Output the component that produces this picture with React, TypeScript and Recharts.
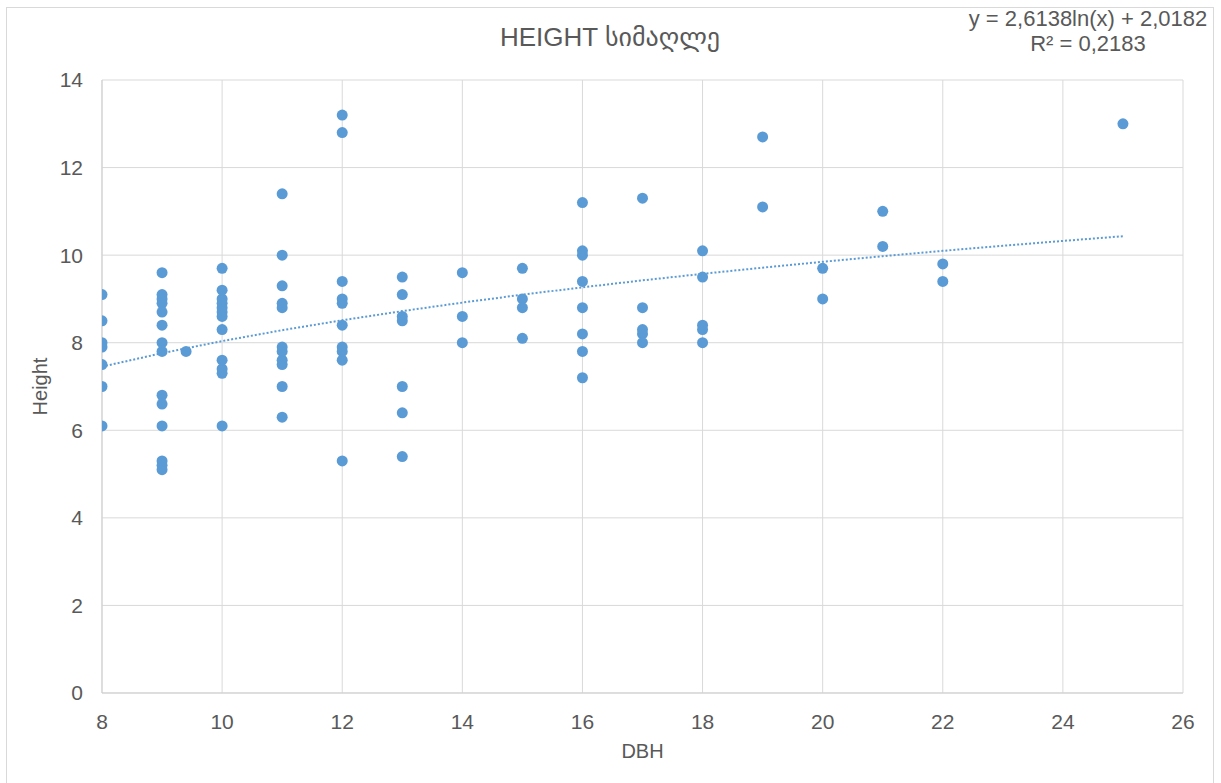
import React from 'react';
import { ScatterChart, Scatter, XAxis, YAxis, CartesianGrid, Label } from 'recharts';

const dbhGroups = [8, 9, 9.4, 10, 11, 12, 13, 14, 15, 16, 17, 18, 19, 20, 21, 22, 25];
const heightGroups = [
  [9.1, 8.5, 8.0, 7.9, 7.5, 7.0, 6.1],
  [9.6, 9.1, 9.0, 8.9, 8.7, 8.4, 8.0, 7.8, 6.8, 6.6, 6.1, 5.3, 5.2, 5.1],
  [7.8],
  [9.7, 9.2, 9.0, 8.9, 8.8, 8.7, 8.6, 8.3, 7.6, 7.4, 7.3, 6.1],
  [11.4, 10.0, 9.3, 8.9, 8.8, 7.9, 7.8, 7.6, 7.5, 7.0, 6.3],
  [13.2, 12.8, 9.4, 9.0, 8.9, 8.4, 7.9, 7.8, 7.6, 5.3],
  [9.5, 9.1, 8.6, 8.5, 7.0, 6.4, 5.4],
  [9.6, 8.6, 8.0],
  [9.7, 9.0, 8.8, 8.1],
  [11.2, 10.1, 10.0, 9.4, 8.8, 8.2, 7.8, 7.2],
  [11.3, 8.8, 8.3, 8.2, 8.0],
  [10.1, 9.5, 8.4, 8.3, 8.0],
  [12.7, 11.1],
  [9.7, 9.0],
  [11.0, 10.2],
  [9.8, 9.4],
  [13.0],
];

// Trendline y = 2,6138ln(x) + 2,0182 as shown on the chart
const trendX = [8, 9, 10, 11, 12, 13, 14, 15, 16, 17, 18, 19, 20, 21, 22, 23, 24, 25];
const trendY = [7.453, 7.761, 8.037, 8.286, 8.513, 8.722, 8.916, 9.097, 9.265, 9.424, 9.573, 9.714, 9.848, 9.976, 10.098, 10.214, 10.325, 10.432];

const xTicks = [8, 10, 12, 14, 16, 18, 20, 22, 24, 26];
const yTicks = [0, 2, 4, 6, 8, 10, 12, 14];

const titleText = 'HEIGHT სიმაღლე';
const equationText = 'y = 2,6138ln(x) + 2,0182';
const r2Text = 'R² = 0,2183';
const xLabel = 'DBH';
const yLabel = 'Height';

const points: { x: number; y: number }[] = [];
dbhGroups.forEach((d, i) => {
  heightGroups[i].forEach((h) => points.push({ x: d, y: h }));
});
const trend = trendX.map((x, i) => ({ x, y: trendY[i] }));

const FONT = '"Liberation Sans", Arial, "DejaVu Sans", sans-serif';
const TEXT = '#595959';
const BLUE = '#5b9bd5';

const Dot = (props: any) => <circle cx={props.cx} cy={props.cy} r={5.5} fill={BLUE} />;
const NoDot = () => <g />;

export default function App() {
  return (
    <div
      style={{
        position: 'absolute',
        left: 6,
        top: 7,
        width: 1208,
        height: 776,
        boxSizing: 'border-box',
        borderTop: '1px solid #d9d9d9',
        borderLeft: '1px solid #d9d9d9',
        borderRight: '1px solid #d9d9d9',
        background: '#fff',
        fontFamily: FONT,
      }}
    >
      <div
        style={{
          position: 'absolute',
          left: 0,
          width: 1206,
          top: 14,
          textAlign: 'center',
          fontSize: 26,
          color: TEXT,
          lineHeight: '30px',
        }}
      >
        {titleText}
      </div>
      <div
        style={{
          position: 'absolute',
          left: 881,
          width: 400,
          top: 0,
          textAlign: 'center',
          fontSize: 22,
          color: TEXT,
          lineHeight: '22px',
          whiteSpace: 'nowrap',
        }}
      >
        {equationText}
      </div>
      <div
        style={{
          position: 'absolute',
          left: 881,
          width: 400,
          top: 25,
          textAlign: 'center',
          fontSize: 22,
          color: TEXT,
          lineHeight: '22px',
          whiteSpace: 'nowrap',
        }}
      >
        {r2Text}
      </div>
      <div style={{ position: 'absolute', left: 0, top: 0 }}>
        <ScatterChart width={1206} height={775} margin={{ top: 72, right: 30, left: 0, bottom: 0 }}>
          <CartesianGrid stroke="#d9d9d9" strokeWidth={1} />
          <XAxis
            type="number"
            dataKey="x"
            domain={[8, 26]}
            ticks={xTicks}
            allowDataOverflow
            height={90}
            tickSize={0}
            tickMargin={21}
            axisLine={{ stroke: '#cfcfcf' }}
            tick={{ fill: TEXT, fontSize: 21, fontFamily: FONT }}
          >
            <Label value={xLabel} position="insideBottom" offset={25} fill={TEXT} fontSize={20} fontFamily={FONT} />
          </XAxis>
          <YAxis
            type="number"
            dataKey="y"
            domain={[0, 14]}
            ticks={yTicks}
            allowDataOverflow
            width={95}
            tickSize={0}
            tickMargin={19}
            axisLine={{ stroke: '#cfcfcf' }}
            tick={{ fill: TEXT, fontSize: 21, fontFamily: FONT }}
          >
            <Label
              value={yLabel}
              angle={-90}
              position="insideLeft"
              offset={33}
              fill={TEXT}
              fontSize={20}
              fontFamily={FONT}
              style={{ textAnchor: 'middle' }}
            />
          </YAxis>
          <Scatter
            data={trend}
            isAnimationActive={false}
            line={{ stroke: BLUE, strokeWidth: 2, strokeDasharray: '2 2' }}
            lineType="joint"
            shape={NoDot}
          />
          <Scatter data={points} isAnimationActive={false} fill={BLUE} shape={Dot} />
        </ScatterChart>
      </div>
    </div>
  );
}
